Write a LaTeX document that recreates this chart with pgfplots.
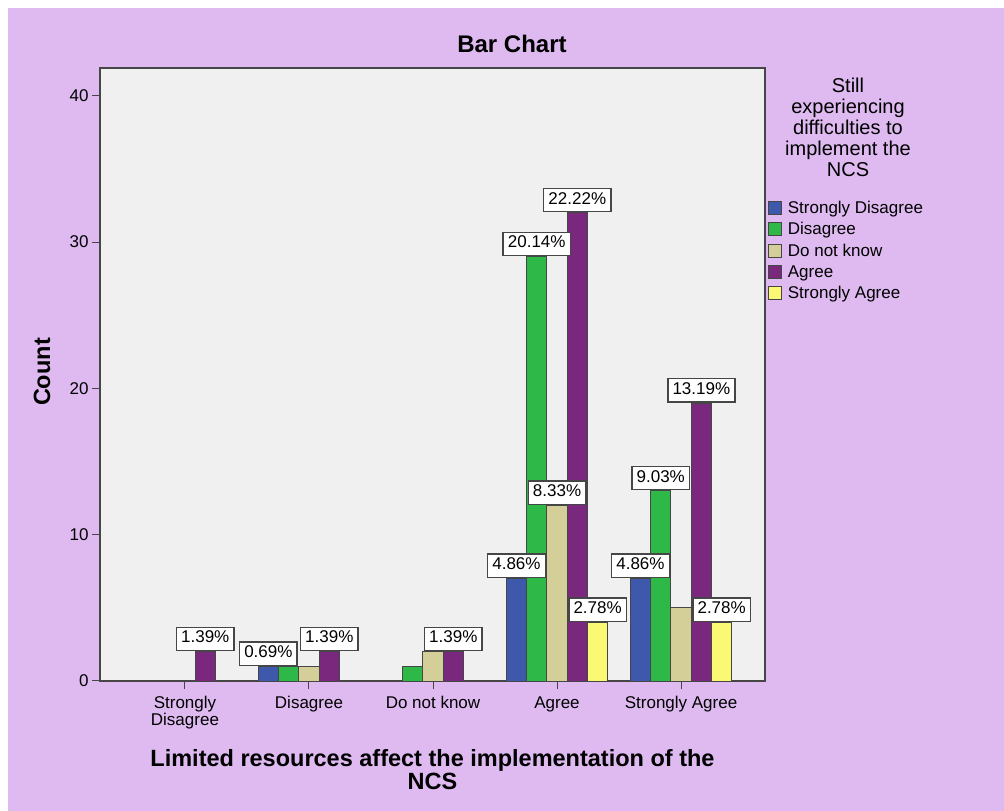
\documentclass[border=0pt]{standalone}
\usepackage{pgfplots}
\pgfplotsset{compat=1.18}
\usepackage{fontspec}
\setmainfont{Liberation Sans}

\definecolor{pagebg}{RGB}{222,186,240}
\definecolor{plotbg}{RGB}{240,240,240}
\definecolor{frame}{RGB}{70,70,70}
\definecolor{cSD}{RGB}{62,88,172}
\definecolor{cD}{RGB}{46,184,72}
\definecolor{cDNK}{RGB}{212,206,152}
\definecolor{cA}{RGB}{121,40,126}
\definecolor{cSA}{RGB}{251,248,115}

\setlength{\fboxrule}{1.4pt}
\setlength{\fboxsep}{1.5pt}
\def\nolbl{-}
% percentage box on top of a bar; "-" means no box
\newcommand\pctlabel{%
  \edef\tmp{\pgfplotspointmeta}%
  \ifx\tmp\nolbl\else
    \fcolorbox{frame}{white}{\rule[-5.5pt]{0pt}{19pt}\hspace{2.5pt}\pgfplotspointmeta\%\hspace{2.5pt}}%
  \fi}

\newcommand\regfont{\fontsize{17}{17}\selectfont}
\newcommand\boldfont{\bfseries\fontsize{23.5}{23}\selectfont}

% counts per x category (0..4) for each response group
\pgfplotstableread{
x y lbl
1 1 0.69
3 7 4.86
4 7 4.86
}\tSD
\pgfplotstableread{
x y lbl
1 1 -
2 1 -
3 29 20.14
4 13 9.03
}\tD
\pgfplotstableread{
x y lbl
1 1 -
2 2 -
3 12 8.33
4 5 -
}\tDNK
\pgfplotstableread{
x y lbl
0 2 1.39
1 2 1.39
2 2 1.39
3 32 22.22
4 19 13.19
}\tA
\pgfplotstableread{
x y lbl
3 4 2.78
4 4 2.78
}\tSA

\begin{document}
\begin{tikzpicture}[x=1pt,y=1pt]
\fill[white] (0pt,0pt) rectangle (1004pt,811pt);
\fill[pagebg] (8pt,0pt) rectangle (1004pt,803pt);
\begin{axis}[
  at={(100pt,130pt)}, anchor=south west,
  scale only axis, width=665pt, height=613pt,
  xmin=-0.685, xmax=4.677, ymin=0, ymax=41.9,
  axis background/.style={fill=plotbg},
  axis line style={frame, line width=1.2pt},
  ybar=0pt, bar width=20.3pt,
  xtick={0,1,2,3,4},
  xticklabels={{Strongly\\Disagree},Disagree,Do not know,Agree,Strongly Agree},
  ytick={0,10,20,30,40},
  xtick pos=left, ytick pos=left,
  tick align=outside, major tick length=8pt,
  tick style={frame, line width=1pt},
  /pgf/number format/assume math mode=true,
  xticklabel style={align=center, font=\fontsize{17}{16.5}\selectfont, text depth=4pt, yshift=-4pt},
  yticklabel style={font=\regfont},
  title={Bar Chart},
  title style={at={(axis description cs:0.6195,1.029)}, anchor=center, font=\bfseries\fontsize{24}{24}\selectfont},
  xlabel={Limited resources affect the implementation of the\\NCS},
  xlabel style={at={(axis description cs:0.5,-0.1444)}, anchor=center, align=center, font=\boldfont},
  ylabel={Count},
  every axis y label/.style={at={(axis description cs:-0.0872,0.504)}, rotate=90, anchor=center, font=\boldfont},
  point meta=explicit symbolic,
  nodes near coords={\pctlabel},
  every node near coord/.append style={anchor=south, inner sep=0pt, font=\regfont},
  legend style={at={(axis description cs:1.004,0.787)}, anchor=north west,
    draw=none, fill=none, font=\regfont, inner sep=0pt, row sep=3.7pt,
    nodes={inner sep=2pt},
    /tikz/every odd column/.append style={column sep=4pt}},
  legend cell align=left,
  sqlegend/.style={legend image code/.code={%
    \draw[##1, draw=frame, line width=1pt] (0pt,-6.5pt) rectangle (13pt,6.5pt);}},
]
\addplot[fill=cSD, draw=frame, line width=0.8pt, sqlegend] table[x=x, y=y, meta=lbl] {\tSD};
\addplot[fill=cD, draw=frame, line width=0.8pt, sqlegend] table[x=x, y=y, meta=lbl] {\tD};
\addplot[fill=cDNK, draw=frame, line width=0.8pt, sqlegend] table[x=x, y=y, meta=lbl] {\tDNK};
\addplot[fill=cA, draw=frame, line width=0.8pt, sqlegend] table[x=x, y=y, meta=lbl] {\tA};
\addplot[fill=cSA, draw=frame, line width=0.8pt, sqlegend] table[x=x, y=y, meta=lbl] {\tSA};
\legend{Strongly Disagree, Disagree, Do not know, Agree, Strongly Agree}
\end{axis}
\node[align=center, anchor=north, font=\fontsize{20}{21}\selectfont, inner sep=0pt]
  at (848pt,733pt) {Still\\experiencing\\difficulties to\\implement the\\NCS};
\pgfresetboundingbox
\useasboundingbox (0pt,0pt) rectangle (1004pt,811pt);
\end{tikzpicture}
\end{document}
